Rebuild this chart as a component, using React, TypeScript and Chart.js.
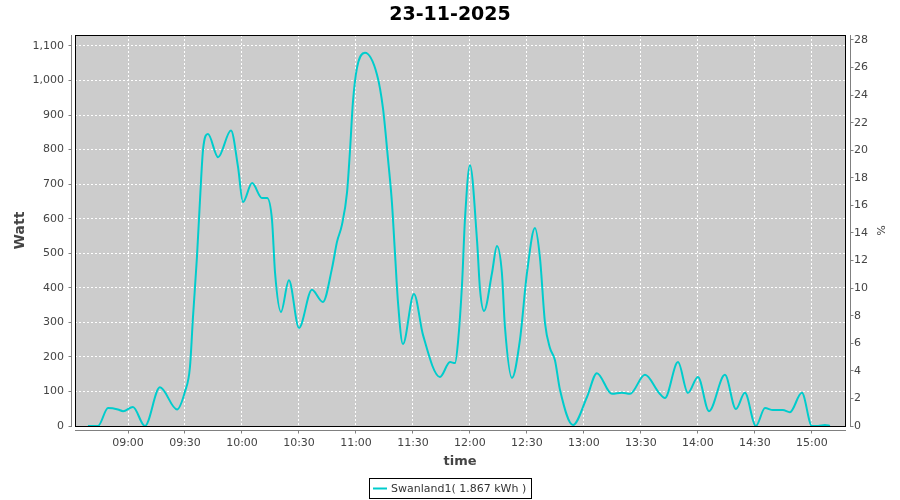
import React, { useEffect, useRef } from 'react';
import { Chart, registerables } from 'chart.js';

Chart.register(...registerables);

const TITLE = '23-11-2025';
const SERIES_LABEL = 'Swanland1( 1.867 kWh )';
const X_TITLE = 'time';
const Y_TITLE = 'Watt';
const Y2_TITLE = '%';

// minutes since midnight
const times = [
  518.9, 524.2, 529.5, 534.7, 537.4, 542.6, 548.9, 556.8, 565.8, 570,
  572.6, 574.2, 576.3, 577.9, 579.5, 582.1, 587.4, 594.2, 597.9, 600.5,
  605.3, 610.5, 613.2, 615.8, 617.4, 620.5, 624.7, 630, 636.8, 642.6,
  647.4, 650, 652.6, 655.3, 656.8, 658.4, 660.5, 664.7, 671.1, 674.2,
  676.8, 678.9, 680.5, 682.1, 684.7, 690.5, 695.3, 704.2, 709.5, 712.1,
  713.7, 715.8, 717.4, 720, 723.7, 725.3, 727.4, 731.6, 734.2, 736.8,
  738.4, 742.1, 746.3, 750, 754.2, 756.8, 759.5, 762.1, 764.7, 767.4,
  774.2, 781.6, 786.8, 794.7, 800, 804.2, 812.1, 819.5, 822.6, 829.5,
  834.7, 840, 845.8, 854.2, 860, 864.7, 870.5, 875.3, 879.5, 884.7,
  888.4, 894.7, 900, 903.2, 906.8, 909.5,
];

const watts = [
  0, 0, 52, 48, 43, 55, 0, 112, 48, 100,
  170, 315, 490, 655, 800, 845, 778, 855, 750, 648,
  703, 660, 660, 596, 443, 330, 422, 284, 394, 359,
  457, 533, 582, 677, 793, 938, 1036, 1080, 1016, 920,
  776, 648, 503, 359, 237, 382, 263, 142, 185, 182,
  243, 408, 602, 755, 538, 394, 333, 443, 521, 443,
  287, 139, 249, 443, 573, 489, 298, 226, 191, 104,
  3, 84, 153, 93, 96, 93, 148, 96, 81, 185,
  96, 142, 43, 148, 49, 96, 0, 52, 46, 46,
  40, 96, 0, 0, 3, 0,
];

const xTickLabels = ['09:00', '09:30', '10:00', '10:30', '11:00', '11:30', '12:00', '12:30', '13:00', '13:30', '14:00', '14:30', '15:00'];
const wattTicks = [0, 100, 200, 300, 400, 500, 600, 700, 800, 900, 1000, 1100];
const percentTicks = [0, 2, 4, 6, 8, 10, 12, 14, 16, 18, 20, 22, 24, 26, 28];

const X_MIN = 512.1;
const X_MAX = 917.4;
const WATT_MAX = 1131.7;
const PCT_MAX = 28.36;

const LINE_COLOR = '#00cccc';
const AXIS_COLOR = '#808080';
const TEXT_COLOR = '#444444';
const FONT = 'DejaVu Sans';

const toMin = (s: string) => {
  const [h, m] = s.split(':').map(Number);
  return h * 60 + m;
};
const fmtTime = (v: number) => {
  const h = Math.floor(v / 60);
  const m = Math.round(v - h * 60);
  return String(h).padStart(2, '0') + ':' + String(m).padStart(2, '0');
};

const framePlugin = {
  id: 'frame',
  beforeDraw(chart: any) {
    const { ctx, chartArea: a } = chart;
    ctx.save();
    ctx.fillStyle = '#ffffff';
    ctx.fillRect(0, 0, chart.width, chart.height);
    ctx.fillStyle = '#cccccc';
    ctx.fillRect(a.left, a.top, a.right - a.left + 1, a.bottom - a.top + 1);
    ctx.restore();
  },
  afterDatasetsDraw(chart: any) {
    const { ctx, chartArea: a, scales } = chart;
    ctx.save();
    ctx.strokeStyle = '#000000';
    ctx.lineWidth = 1;
    ctx.strokeRect(a.left + 0.5, a.top + 0.5, a.right - a.left, a.bottom - a.top);

    ctx.strokeStyle = AXIS_COLOR;
    ctx.beginPath();
    const lx = a.left - 3.5;
    ctx.moveTo(lx, a.top);
    ctx.lineTo(lx, a.bottom + 1);
    wattTicks.forEach((v) => {
      const y = Math.floor(scales.y.getPixelForValue(v)) + 0.5;
      ctx.moveTo(lx - 3, y);
      ctx.lineTo(lx, y);
    });
    const rx = a.right + 5.5;
    ctx.moveTo(rx, a.top);
    ctx.lineTo(rx, a.bottom + 1);
    percentTicks.forEach((v) => {
      const y = Math.floor(scales.y2.getPixelForValue(v)) + 0.5;
      ctx.moveTo(rx, y);
      ctx.lineTo(rx + 3, y);
    });
    const by = a.bottom + 4.5;
    ctx.moveTo(a.left, by);
    ctx.lineTo(a.right + 1, by);
    xTickLabels.forEach((s) => {
      const x = Math.floor(scales.x.getPixelForValue(toMin(s))) + 0.5;
      ctx.moveTo(x, by);
      ctx.lineTo(x, by + 3);
    });
    ctx.stroke();
    ctx.restore();
  },
  afterDraw(chart: any) {
    const { ctx } = chart;
    const label = chart.data.datasets[0].label as string;
    ctx.save();
    ctx.font = `11px "${FONT}"`;
    const tw = ctx.measureText(label).width;
    const w = Math.round(4 + 14 + 4 + tw + 5);
    const h = 20;
    const left = Math.round(450 - w / 2);
    const top = 478;
    ctx.fillStyle = '#ffffff';
    ctx.fillRect(left, top, w, h);
    ctx.strokeStyle = '#000000';
    ctx.lineWidth = 1;
    ctx.strokeRect(left + 0.5, top + 0.5, w, h);
    ctx.strokeStyle = LINE_COLOR;
    ctx.lineWidth = 2;
    ctx.beginPath();
    ctx.moveTo(left + 4, top + 10.5);
    ctx.lineTo(left + 18, top + 10.5);
    ctx.stroke();
    ctx.fillStyle = '#333333';
    ctx.textBaseline = 'middle';
    ctx.textAlign = 'left';
    ctx.fillText(label, left + 22, top + 11);
    ctx.restore();
  },
};

export default function App() {
  const canvasRef = useRef<HTMLCanvasElement | null>(null);

  useEffect(() => {
    document.body.style.margin = '0';
    const canvas = canvasRef.current;
    if (!canvas) return;
    Chart.defaults.font.family = FONT;

    const points = times.map((t, i) => ({ x: t, y: watts[i] }));

    const chart = new Chart(canvas, {
      type: 'line',
      data: {
        datasets: [
          {
            label: SERIES_LABEL,
            data: points,
            borderColor: LINE_COLOR,
            backgroundColor: LINE_COLOR,
            borderWidth: 2,
            pointRadius: 0,
            fill: false,
            cubicInterpolationMode: 'monotone',
            yAxisID: 'y',
          },
        ],
      },
      options: {
        animation: false,
        responsive: false,
        devicePixelRatio: 1,
        layout: { padding: 0 },
        plugins: {
          legend: { display: false },
          tooltip: { enabled: false },
          title: {
            display: true,
            text: TITLE,
            color: '#000000',
            font: { family: FONT, size: 19, weight: 'bold', lineHeight: 1.2 },
            padding: { top: 3.8, bottom: 8.4 },
          },
        },
        scales: {
          x: {
            type: 'linear',
            position: 'bottom',
            min: X_MIN,
            max: X_MAX,
            afterFit: (s: any) => { s.height = 74; },
            afterBuildTicks: (s: any) => { s.ticks = xTickLabels.map((t) => ({ value: toMin(t) })); },
            ticks: {
              callback: (v: any) => fmtTime(Number(v)),
              color: TEXT_COLOR,
              font: { family: FONT, size: 11 },
              padding: 10.5,
              maxRotation: 0,
              autoSkip: false,
            },
            grid: {
              color: '#ffffff',
              lineWidth: 1,
              drawTicks: false,
            },
            border: { display: false, dash: [2, 2] },
            title: {
              display: true,
              text: X_TITLE,
              color: TEXT_COLOR,
              font: { family: FONT, size: 13, weight: 'bold', lineHeight: 1.2 },
              padding: { top: 0, bottom: 30.5 },
            },
          },
          y: {
            type: 'linear',
            position: 'left',
            min: 0,
            max: WATT_MAX,
            afterFit: (s: any) => { s.width = 75; },
            afterBuildTicks: (s: any) => { s.ticks = wattTicks.map((v) => ({ value: v })); },
            ticks: {
              callback: (v: any) => Number(v).toLocaleString('en-US'),
              color: TEXT_COLOR,
              font: { family: FONT, size: 11 },
              padding: 11,
            },
            grid: {
              color: '#ffffff',
              lineWidth: 1,
              drawTicks: false,
            },
            border: { display: false, dash: [2, 2] },
            title: {
              display: true,
              text: Y_TITLE,
              color: TEXT_COLOR,
              font: { family: FONT, size: 14, weight: 'bold', lineHeight: 1.2 },
              padding: { top: 11.6, bottom: 0 },
            },
          },
          y2: {
            type: 'linear',
            position: 'right',
            min: 0,
            max: PCT_MAX,
            afterFit: (s: any) => { s.width = 55; },
            afterBuildTicks: (s: any) => { s.ticks = percentTicks.map((v) => ({ value: v })); },
            ticks: {
              callback: (v: any) => String(v),
              color: TEXT_COLOR,
              font: { family: FONT, size: 11 },
              padding: 9,
            },
            grid: { display: false, drawTicks: false },
            border: { display: false },
            title: {
              display: true,
              text: Y2_TITLE,
              color: TEXT_COLOR,
              font: { family: FONT, size: 11, lineHeight: 1.2 },
              padding: { top: 13.4, bottom: 0 },
            },
          },
        },
      },
      plugins: [framePlugin],
    } as any);

    return () => chart.destroy();
  }, []);

  return (
    <div style={{ width: 900, height: 500 }}>
      <canvas ref={canvasRef} width={900} height={500} style={{ display: 'block' }} />
    </div>
  );
}
